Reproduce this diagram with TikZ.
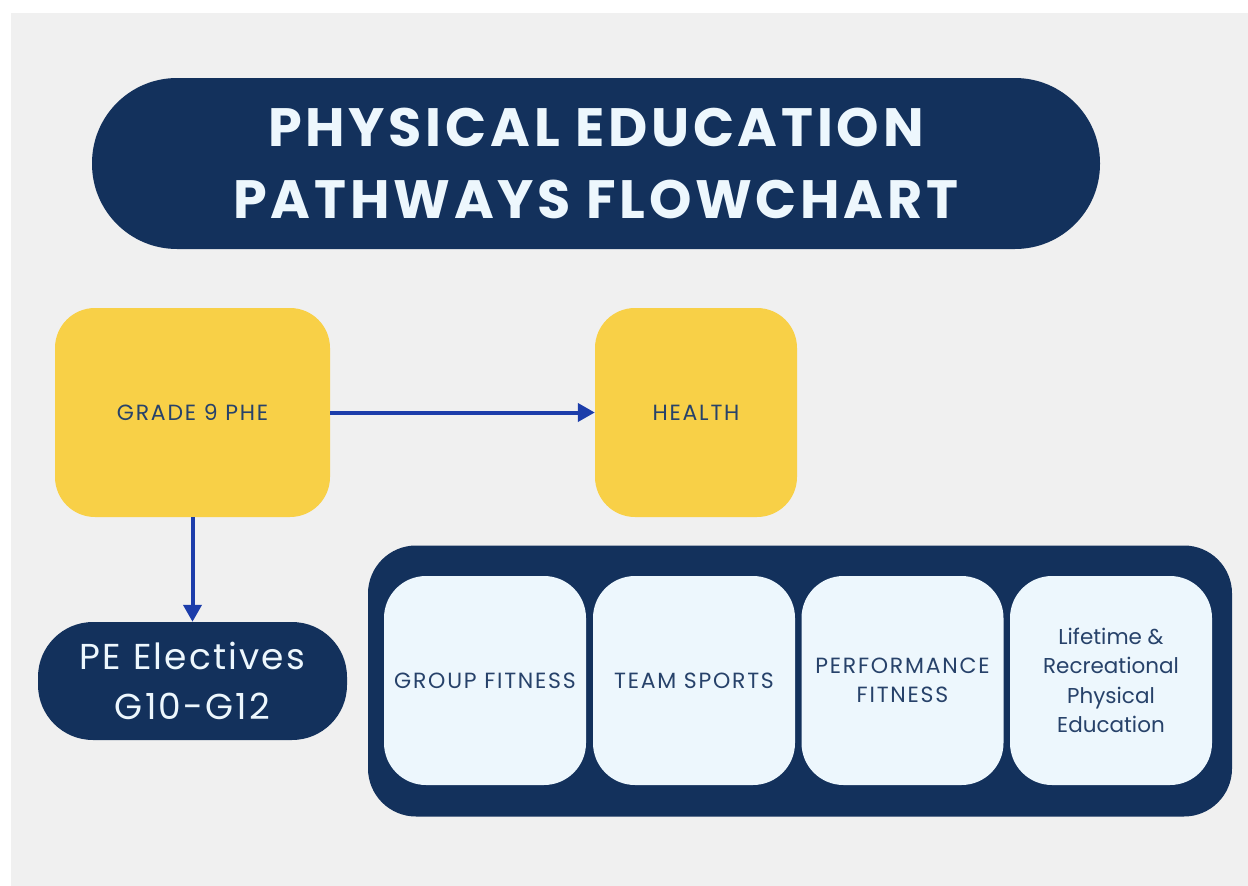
\documentclass[tikz,border=0pt]{standalone}
\usepackage{fontspec}
\setmainfont{Poppins}
\newfontfamily\titlefont[LetterSpace=7]{Poppins Bold}
\newfontfamily\capsfont[LetterSpace=8]{Poppins}
\newfontfamily\bodyfont[LetterSpace=6]{Poppins}
\usetikzlibrary{arrows.meta}

\definecolor{navy}{HTML}{13315C}
\definecolor{sunny}{HTML}{F8D047}
\definecolor{icebox}{HTML}{EDF7FD}
\definecolor{paper}{HTML}{F0F0F0}
\definecolor{linkblue}{HTML}{1C3DAA}
\definecolor{inktext}{HTML}{27426A}

\begin{document}
\begin{tikzpicture}[
    x=1pt, y=-1pt,
    yellowbox/.style={rectangle, rounded corners=40pt, fill=sunny, text=inktext,
        minimum height=209pt, font=\capsfont\fontsize{22}{26}\selectfont},
    pillbox/.style={rectangle, rounded corners=55pt, fill=navy, text=icebox,
        minimum width=309pt, minimum height=118pt, align=center,
        font=\bodyfont\fontsize{36}{50}\selectfont},
    option/.style={rectangle, rounded corners=42pt, fill=icebox, text=inktext,
        minimum width=202pt, minimum height=209pt, align=center,
        font=\capsfont\fontsize{22}{29}\selectfont},
    link/.style={draw=linkblue, line width=4pt, -{Triangle[length=17pt,width=18pt]}},
    align=center
]

% Page
\useasboundingbox (0,0) rectangle (1248,886);
\fill[paper] (11,13) rectangle (1248,886);

% Title
\node[rectangle, rounded corners=85pt, fill=navy, text=icebox,
    minimum width=1008pt, minimum height=171pt,
    font=\titlefont\fontsize{54}{72}\selectfont] (title) at (596,163.5)
    {PHYSICAL EDUCATION\\PATHWAYS FLOWCHART};

% Grade 9 and health
\node[yellowbox, minimum width=275pt] (G9) at (192.5,412.5) {GRADE 9 PHE};
\node[yellowbox, minimum width=202pt] (HE) at (696,412.5) {HEALTH};

% Electives
\node[pillbox] (PE) at (192.5,681) {PE Electives\\G10-G12};

% Elective options
\node[rectangle, rounded corners=48pt, fill=navy,
    minimum width=864pt, minimum height=271pt] (panel) at (800,681) {};
\node[option] (O1) at (485,680.5) {GROUP FITNESS};
\node[option] (O2) at (694,680.5) {TEAM SPORTS};
\node[option] (O3) at (902.5,680.5) {PERFORMANCE\\FITNESS};
\node[option, font=\fontsize{21.5}{29.5}\selectfont] (O4) at (1111,680.5)
    {Lifetime \&\\Recreational\\Physical\\Education};

% Connections
\draw[link] (G9) -- (HE);
\draw[link] (G9) -- (PE);

\end{tikzpicture}
\end{document}
